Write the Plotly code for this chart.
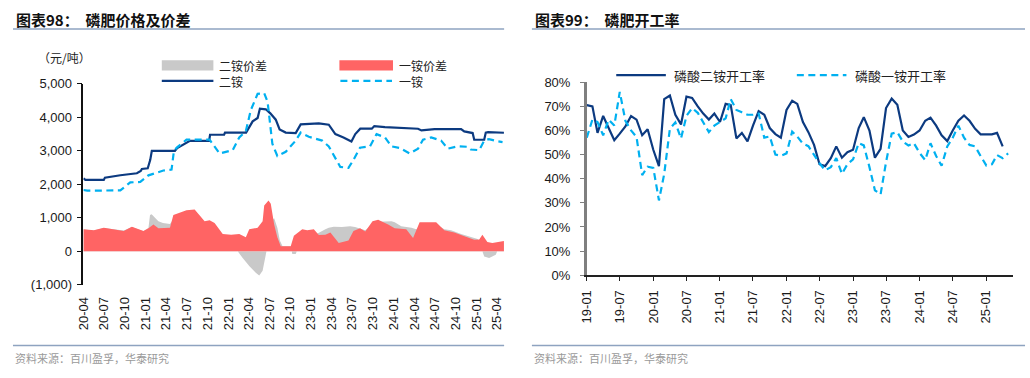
import plotly.graph_objects as go
import pandas as pd

W, H = 1030, 378

# ---------------- Left chart data (元/吨) ----------------
series_names_left = ["二铵价差", "一铵价差", "二铵", "一铵"]

spread_dap_dates = ["2020-04-01", "2020-05-17", "2020-06-30", "2020-09-26", "2020-11-01", "2020-12-22",
                    "2021-01-13", "2021-01-20", "2021-01-27", "2021-02-26", "2021-03-18", "2021-04-18",
                    "2021-05-03", "2021-06-30", "2021-08-05", "2021-08-27", "2021-09-18", "2021-10-10",
                    "2021-11-01", "2021-12-07", "2022-01-13", "2022-01-25", "2022-02-11", "2022-03-05",
                    "2022-04-03", "2022-05-03", "2022-05-17", "2022-06-01", "2022-06-08", "2022-06-18",
                    "2022-06-27", "2022-07-07", "2022-07-22", "2022-08-05", "2022-08-16", "2022-08-28",
                    "2022-10-03", "2022-10-10", "2022-10-25", "2022-11-05", "2022-12-01", "2023-01-15",
                    "2023-03-05", "2023-03-20", "2023-04-11", "2023-05-17", "2023-06-22", "2023-07-14",
                    "2023-08-28", "2023-09-29", "2023-10-24", "2023-12-22", "2024-01-05", "2024-02-03",
                    "2024-03-19", "2024-04-09", "2024-04-24", "2024-07-06", "2024-08-11", "2024-09-10",
                    "2024-10-24", "2024-12-06", "2025-01-05", "2025-01-19", "2025-02-03", "2025-02-25",
                    "2025-03-26", "2025-04-10", "2025-05-01"]
spread_dap = [650, 620, 700, 620, 725, 600,
              700, 1086, 1105, 895, 848, 819,
              950, 1150, 1180, 1000, 850, 880,
              800, 480, 460, 350, 0, -200,
              -438, -648, -724, -580, -343, 0,
              500, 900, 990, 705, 324, 152,
              152, -80, -80, 100, 350, 480,
              657, 705, 733, 724, 752, 724,
              630, 800, 880, 895, 867, 752,
              705, 657, 700, 800, 657, 629,
              514, 419, 371, 133, -152, -200,
              -105, 133, 276]

spread_map_dates = ["2020-04-01", "2020-05-17", "2020-06-30", "2020-09-26", "2020-11-01", "2020-12-22",
                    "2021-01-13", "2021-02-04", "2021-02-26", "2021-04-18", "2021-05-03", "2021-06-30",
                    "2021-08-05", "2021-08-27", "2021-09-18", "2021-10-10", "2021-11-01", "2021-12-07",
                    "2022-01-13", "2022-02-18", "2022-03-19", "2022-04-03", "2022-05-10", "2022-06-01",
                    "2022-06-08", "2022-06-27", "2022-07-07", "2022-07-22", "2022-08-05", "2022-08-20",
                    "2022-10-03", "2022-10-17", "2022-11-23", "2022-12-15", "2023-01-13", "2023-02-04",
                    "2023-03-05", "2023-03-27", "2023-05-03", "2023-06-15", "2023-07-07", "2023-08-05",
                    "2023-08-28", "2023-09-29", "2023-10-24", "2023-12-07", "2024-01-05", "2024-02-25",
                    "2024-03-26", "2024-04-24", "2024-07-06", "2024-08-11", "2024-09-24", "2024-11-14",
                    "2024-12-21", "2025-01-12", "2025-01-26", "2025-02-17", "2025-03-11", "2025-05-01"]
spread_map = [657, 630, 705, 610, 733, 610,
              686, 800, 686, 705, 1086, 1229,
              1248, 1086, 895, 924, 848, 514,
              495, 514, 419, 657, 705, 895,
              1371, 1514, 1419, 800, 419, 152,
              152, 467, 657, 629, 657, 486,
              495, 562, 248, 324, 610, 686,
              590, 895, 943, 800, 686, 657,
              400, 867, 867, 629, 562, 438,
              343, 350, 495, 276, 248, 305]

dap_dates = ["2020-04-01", "2020-04-10", "2020-06-30", "2020-07-05", "2020-09-11", "2020-11-23",
             "2020-12-10", "2020-12-15", "2021-01-10", "2021-01-21", "2021-01-28", "2021-05-10",
             "2021-05-20", "2021-06-16", "2021-07-15", "2021-10-08", "2021-10-12", "2021-12-13",
             "2021-12-17", "2022-03-20", "2022-04-18", "2022-05-10", "2022-05-20", "2022-06-15",
             "2022-07-05", "2022-07-29", "2022-08-15", "2022-09-11", "2022-10-25", "2022-11-16",
             "2023-02-04", "2023-03-20", "2023-04-18", "2023-05-24", "2023-06-28", "2023-07-15",
             "2023-08-06", "2023-09-26", "2023-10-07", "2023-11-23", "2024-04-17", "2024-05-02",
             "2024-06-29", "2024-10-24", "2024-11-07", "2024-12-14", "2024-12-21", "2025-02-03",
             "2025-02-10", "2025-02-20", "2025-05-01"]
dap_price = [2180, 2130, 2130, 2200, 2270, 2330,
             2400, 2460, 2480, 2730, 3000, 3000,
             3080, 3190, 3300, 3300, 3480, 3480,
             3545, 3545, 3880, 3980, 4260, 4240,
             4120, 3930, 3640, 3545, 3530, 3790,
             3820, 3780, 3500, 3400, 3280, 3500,
             3660, 3660, 3740, 3710, 3660, 3610,
             3650, 3650, 3580, 3530, 3330, 3330,
             3545, 3560, 3540]

map_dates = ["2020-04-01", "2020-04-18", "2020-09-11", "2020-10-25", "2020-12-08", "2021-01-13",
             "2021-03-20", "2021-04-25", "2021-05-05", "2021-05-17", "2021-06-30", "2021-10-10",
             "2021-10-25", "2021-11-23", "2022-01-20", "2022-02-18", "2022-03-19", "2022-04-10",
             "2022-05-10", "2022-06-08", "2022-06-23", "2022-07-14", "2022-08-05", "2022-09-11",
             "2022-10-25", "2022-11-16", "2022-12-22", "2023-02-19", "2023-03-20", "2023-04-18",
             "2023-05-10", "2023-06-15", "2023-07-07", "2023-08-05", "2023-09-18", "2023-10-17",
             "2023-11-23", "2023-12-22", "2024-01-27", "2024-03-11", "2024-04-17", "2024-05-09",
             "2024-06-14", "2024-07-28", "2024-08-26", "2024-10-09", "2024-11-22", "2024-12-06",
             "2025-01-12", "2025-02-03", "2025-02-24", "2025-04-02", "2025-04-25"]
map_price = [1830, 1810, 1820, 2058, 2070, 2268,
             2412, 2440, 2970, 3090, 3334, 3334,
             3190, 2920, 3020, 3400, 3590, 4218,
             4700, 4720, 4460, 3210, 2845, 2970,
             3305, 3545, 3420, 3305, 3133, 2778,
             2518, 2490, 2730, 3095, 3133, 3498,
             3400, 3133, 3085, 2922, 3065, 3334,
             3400, 3305, 3065, 3133, 3120, 3040,
             3020, 3305, 3350, 3285, 3260]

left_yticks = [-1000, 0, 1000, 2000, 3000, 4000, 5000]
left_yticktext = ["(1,000)", "0", "1,000", "2,000", "3,000", "4,000", "5,000"]

# ---------------- Right chart data (%) ----------------
series_names_right = ["磷酸二铵开工率", "磷酸一铵开工率"]
months = pd.date_range("2019-01-01", "2025-05-01", freq="MS").strftime("%Y-%m-%d").tolist()
dap_rate = [70.5, 70, 59, 66, 61, 56, 58.7, 61.7, 66, 64.5, 58, 60.5,
            52, 45.2, 73, 74.5, 66.5, 62.5, 74, 73.5, 70, 67, 64.5, 67,
            63.5, 71, 70.5, 56.7, 59, 55.5, 62, 68, 66.5, 61, 58.5, 57,
            68.5, 72.3, 71, 63.5, 59.3, 54, 46, 45.2, 48.5, 53.4, 48.7, 51,
            52, 61, 65.5, 60, 48.7, 52.4, 69.3, 73.2, 70.6, 60, 57.3, 58.3,
            60, 64, 65.3, 62, 58, 55.6, 60, 64, 66.2, 64, 60.7, 58.4,
            58.4, 58.4, 59, 53.4]
map_rate = [57, 64.5, 63.5, 58, 64.5, 62, 76, 64, 60, 57.3, 41.5, 45,
            44.5, 31, 42, 60.7, 63.3, 56.7, 66, 69.3, 67.3, 63.3, 59.3, 62,
            63.5, 65, 73, 68.5, 67.5, 66.5, 66.5, 67, 57, 57.5, 50, 49.5,
            50.5, 59.5, 57.5, 54.5, 53.5, 50, 46.4, 43.5, 44.8, 48.5, 42, 46,
            48, 54.7, 53.8, 44.8, 35.2, 33.5, 46.8, 58.7, 59.3, 55.4, 53.8, 54.7,
            50.7, 47.7, 54.7, 49.4, 45.4, 53.4, 57, 62, 57, 54, 53.4, 49.4,
            45.5, 46, 49.8, 48.5, 50.5]
right_yticks = [0, 10, 20, 30, 40, 50, 60, 70, 80]
right_yticktext = [f"{v}%" for v in right_yticks]

# ---------------- styles ----------------
NAVY = "#0C3A80"
CYAN = "#00B0F0"
GRAY_FILL = "#C9C9C9"
RED_FILL = "#FF6464"
DASH = "7px,4.5px"
TICKFONT = dict(family="Liberation Sans, Arial, sans-serif", size=13, color="#1a1a1a")
CJK = "Noto Sans CJK SC, sans-serif"
RULE = "#8EA3C0"


def px(x):
    return x / W


def py(y):
    return 1 - y / H


fig = go.Figure()

# left traces
fig.add_trace(go.Scatter(x=spread_dap_dates, y=spread_dap, name=series_names_left[0], mode="lines",
                         fill="tozeroy", fillcolor=GRAY_FILL, line=dict(width=0, color=GRAY_FILL),
                         xaxis="x", yaxis="y", showlegend=False))
fig.add_trace(go.Scatter(x=spread_map_dates, y=spread_map, name=series_names_left[1], mode="lines",
                         fill="tozeroy", fillcolor=RED_FILL, line=dict(width=0, color=RED_FILL),
                         xaxis="x", yaxis="y", showlegend=False))
fig.add_trace(go.Scatter(x=dap_dates, y=dap_price, name=series_names_left[2], mode="lines",
                         line=dict(width=2.2, color=NAVY), xaxis="x", yaxis="y", showlegend=False))
fig.add_trace(go.Scatter(x=map_dates, y=map_price, name=series_names_left[3], mode="lines",
                         line=dict(width=2.2, color=CYAN, dash=DASH), xaxis="x", yaxis="y",
                         showlegend=False))

# right traces
fig.add_trace(go.Scatter(x=months[:len(dap_rate)], y=dap_rate, name=series_names_right[0], mode="lines",
                         line=dict(width=2.2, color=NAVY), xaxis="x2", yaxis="y2", showlegend=False))
fig.add_trace(go.Scatter(x=months[:len(map_rate)], y=map_rate, name=series_names_right[1], mode="lines",
                         line=dict(width=2.2, color=CYAN, dash=DASH), xaxis="x2", yaxis="y2",
                         showlegend=False))

# left geometry (page pixels)
L_x0, L_x1 = 76, 500.7
L_ytop, L_ybot = 80, 289.3
ydom_l = [py(L_ybot), py(L_ytop)]
zero_pos = ydom_l[0] + (ydom_l[1] - ydom_l[0]) * (0 - left_yticks[0]) / (left_yticks[-1] - left_yticks[0])

# right geometry (page pixels)
R_x0, R_x1 = 583.3, 1013.3
R_ytop, R_ybot = 78.3, 279.3

fig.update_layout(
    width=W, height=H, autosize=False,
    margin=dict(l=0, r=0, t=0, b=0),
    paper_bgcolor="white", plot_bgcolor="white",
    xaxis=dict(domain=[px(L_x0), px(L_x1)], type="date", range=["2020-04-01", "2025-05-05"],
               tick0="2020-04-01", dtick="M3", tickformat="%y-%m", tickangle=-90,
               showline=False, showgrid=False, zeroline=False,
               ticks="outside", ticklen=6, tickcolor="rgba(0,0,0,0)",
               tickfont=TICKFONT, anchor="y"),
    xaxis3=dict(overlaying="x", matches="x", anchor="free", position=zero_pos, type="date",
                tick0="2020-04-01", dtick="M3", showticklabels=False,
                showline=True, linecolor="#111", linewidth=1.5, showgrid=False, zeroline=False,
                ticks="outside", ticklen=5, tickcolor="#111", tickwidth=1),
    yaxis=dict(domain=ydom_l, range=[left_yticks[0], left_yticks[-1]], tickvals=left_yticks,
               ticktext=left_yticktext, showline=True, linecolor="#111", linewidth=1.5,
               ticks="outside", ticklen=5, tickcolor="#111", showgrid=False, zeroline=False,
               tickfont=TICKFONT, anchor="x", ticklabelstandoff=2),
    xaxis2=dict(domain=[px(R_x0), px(R_x1)], type="date", range=["2019-01-01", "2025-05-30"],
                tick0="2019-01-01", dtick="M6", tickformat="%y-%m", tickangle=-90,
                showline=True, linecolor="#222", linewidth=1.5, showgrid=False, zeroline=False,
                ticks="outside", ticklen=4, tickcolor="#222", tickfont=TICKFONT, anchor="y2",
                ticklabelstandoff=4),
    yaxis2=dict(domain=[py(R_ybot), py(R_ytop)], range=[0, 80], tickvals=right_yticks,
                ticktext=right_yticktext, showline=True, linecolor="#7F7F7F", linewidth=2.5,
                ticks="outside", ticklen=4, tickcolor="#7F7F7F", showgrid=False, zeroline=False,
                tickfont=TICKFONT, anchor="x2", ticklabelstandoff=7),
)

shapes = []
annotations = []

# title rules and source rules
for (a, b) in [(5, 500), (528, 1025)]:
    for yy in (23, 352.5):
        shapes.append(dict(type="line", xref="paper", yref="paper", x0=px(a), x1=px(b), y0=py(yy), y1=py(yy),
                           line=dict(color=RULE, width=1.5)))

# titles and sources
for (x, num, txt) in [(6, "98", "磷肥价格及价差"), (529, "99", "磷肥开工率")]:
    annotations.append(dict(x=px(x), y=py(13), xref="paper", yref="paper", xanchor="left", yanchor="middle",
                            showarrow=False,
                            text=f"<b>图表{num}：</b>  <b>{txt}</b>",
                            font=dict(family=CJK, size=15, color="#111")))
    annotations.append(dict(x=px(x - 1), y=py(365), xref="paper", yref="paper", xanchor="left", yanchor="middle",
                            showarrow=False, text="资料来源：百川盈孚，华泰研究",
                            font=dict(family=CJK, size=11, color="#9a9a9a")))

# unit label
annotations.append(dict(x=px(28), y=py(53), xref="paper", yref="paper", xanchor="left", yanchor="middle",
                        showarrow=False, text="（元/吨）", font=dict(family=CJK, size=12, color="#222")))

legend_font = dict(family=CJK, size=12, color="#222")

# left legend (drawn)
for (x0, x1, col, name) in [(155, 207, GRAY_FILL, series_names_left[0]), (334, 388, RED_FILL, series_names_left[1])]:
    shapes.append(dict(type="rect", xref="paper", yref="paper", x0=px(x0), x1=px(x1), y0=py(66), y1=py(55.5),
                       fillcolor=col, line=dict(width=0)))
    annotations.append(dict(x=px(x1 + 5), y=py(60.5), xref="paper", yref="paper", xanchor="left",
                            yanchor="middle", showarrow=False, text=name, font=legend_font, borderpad=0))
shapes.append(dict(type="line", xref="paper", yref="paper", x0=px(155), x1=px(207), y0=py(77), y1=py(77),
                   line=dict(color=NAVY, width=2.2)))
annotations.append(dict(x=px(212), y=py(77.5), xref="paper", yref="paper", xanchor="left", yanchor="middle",
                        showarrow=False, text=series_names_left[2], font=legend_font, borderpad=0))
shapes.append(dict(type="line", xref="paper", yref="paper", x0=px(335), x1=px(387), y0=py(77), y1=py(77),
                   line=dict(color=CYAN, width=2.2, dash=DASH)))
annotations.append(dict(x=px(393), y=py(77.5), xref="paper", yref="paper", xanchor="left", yanchor="middle",
                        showarrow=False, text=series_names_left[3], font=legend_font, borderpad=0))

# right legend (drawn)
rfont = dict(family=CJK, size=13, color="#222")
shapes.append(dict(type="line", xref="paper", yref="paper", x0=px(613), x1=px(663), y0=py(71), y1=py(71),
                   line=dict(color=NAVY, width=2.2)))
annotations.append(dict(x=px(669), y=py(71), xref="paper", yref="paper", xanchor="left", yanchor="middle",
                        showarrow=False, text=series_names_right[0], font=rfont))
shapes.append(dict(type="line", xref="paper", yref="paper", x0=px(795), x1=px(845), y0=py(71), y1=py(71),
                   line=dict(color=CYAN, width=2.2, dash=DASH)))
annotations.append(dict(x=px(852), y=py(71), xref="paper", yref="paper", xanchor="left", yanchor="middle",
                        showarrow=False, text=series_names_right[1], font=rfont))

fig.update_layout(shapes=shapes, annotations=annotations)

fig.write_html("out.html", config={"displayModeBar": False},
               post_script="document.body.style.margin='0';document.body.style.overflow='hidden';")
